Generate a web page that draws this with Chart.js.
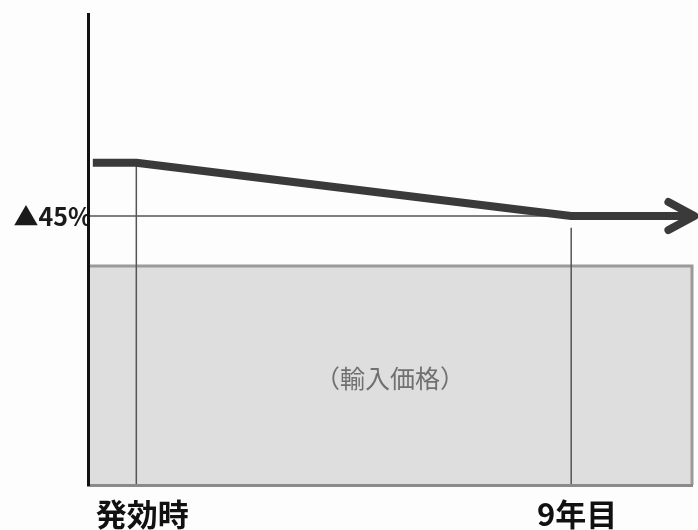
<!DOCTYPE html>
<html>
<head>
<meta charset="utf-8">
<script src="https://cdn.jsdelivr.net/npm/chart.js@4"></script>
<style>
  html, body { margin: 0; padding: 0; background: #fdfdfd; }
  #wrap { width: 698px; height: 530px; position: relative; }
</style>
</head>
<body>
<div id="wrap"><canvas id="chart"></canvas></div>
<script>
// Years after the agreement takes effect
const years = [-0.9, 0, 9, 11.55];
// Price level incl. tariff (relative units)
const tariffLevel = [68.4, 68.4, 57.1, 57.1];
// Import price (grey box) and reduced level
const importPrice = 46.5;
const cutLevel = 57.1;
const cutLabel = "▲45%";
const xTickValues = [0, 9];
const xTickLabels = ["発効時", "9年目"];
const boxLabel = "（輸入価格）";

const xMin = -1, xMax = 11.5;

function pts(xs, ys) {
  return xs.map((x, i) => ({ x: x, y: ys[i] }));
}

// Arrow head + box caption
const extras = {
  id: "extras",
  afterDatasetsDraw(chart) {
    const ctx = chart.ctx;
    const meta = chart.getDatasetMeta(0);
    const last = meta.data[meta.data.length - 1];
    ctx.save();
    ctx.strokeStyle = "#3a3a3a";
    ctx.lineWidth = 8;
    ctx.lineCap = "round";
    ctx.lineJoin = "round";
    ctx.beginPath();
    ctx.moveTo(last.x - 26, last.y - 14);
    ctx.lineTo(last.x, last.y);
    ctx.lineTo(last.x - 26, last.y + 14);
    ctx.stroke();

    const xs = chart.scales.x, ys = chart.scales.y;
    ctx.fillStyle = "#707070";
    ctx.font = "25px 'Noto Sans CJK JP'";
    ctx.textAlign = "center";
    ctx.textBaseline = "middle";
    ctx.fillText(boxLabel, xs.getPixelForValue((xMin + xMax) / 2), ys.getPixelForValue(importPrice / 2) + 3);
    ctx.restore();
  }
};

const ctx = document.getElementById("chart").getContext("2d");

new Chart(ctx, {
  type: "scatter",
  data: {
    datasets: [
      {
        // main line
        data: pts(years, tariffLevel),
        showLine: true,
        borderColor: "#3a3a3a",
        borderWidth: 8,
        pointRadius: 0,
        borderJoinStyle: "round",
        clip: false,
        order: 1
      },
      {
        data: pts([0, 0], [0, tariffLevel[1]]),
        showLine: true,
        borderColor: "#555",
        borderWidth: 1.5,
        pointRadius: 0,
        order: 2
      },
      {
        data: pts([9, 9], [0, 54.6]),
        showLine: true,
        borderColor: "#555",
        borderWidth: 1.5,
        pointRadius: 0,
        order: 2
      },
      {
        data: pts([xMin, 9], [cutLevel, cutLevel]),
        showLine: true,
        borderColor: "#555",
        borderWidth: 1.5,
        pointRadius: 0,
        order: 2
      },
      {
        // import price box
        data: pts([xMin, xMax, xMax], [importPrice, importPrice, 0]),
        showLine: true,
        fill: "origin",
        backgroundColor: "#dedede",
        borderColor: "#9a9a9a",
        borderWidth: 3,
        pointRadius: 0,
        clip: false,
        order: 3
      }
    ]
  },
  options: {
    responsive: true,
    maintainAspectRatio: false,
    animation: false,
    layout: { padding: { top: 14, right: 6, left: 0, bottom: 0 } },
    plugins: {
      legend: { display: false },
      tooltip: { enabled: false }
    },
    scales: {
      x: {
        type: "linear",
        min: xMin,
        max: xMax,
        grid: { display: false },
        border: { display: true, color: "#8a8a8a", width: 3, z: 1 },
        afterBuildTicks: (s) => { s.ticks = xTickValues.map(v => ({ value: v })); },
        afterFit: (s) => { s.height = 45; },
        ticks: {
          padding: 3,
          labelOffset: 6,
          color: "#111",
          font: { family: "'Noto Sans CJK JP'", size: 31, weight: "bold" },
          callback: (v) => xTickLabels[xTickValues.indexOf(v)]
        }
      },
      y: {
        min: 0,
        max: 100,
        grid: { display: false },
        border: { display: true, color: "#111", width: 3, z: 2 },
        afterBuildTicks: (s) => { s.ticks = [{ value: cutLevel }]; },
        afterFit: (s) => { s.width = 88; },
        ticks: {
          padding: -12,
          color: "#1a1a1a",
          font: { family: "'Noto Sans CJK JP'", size: 25, weight: "bold" },
          callback: () => cutLabel
        }
      }
    }
  },
  plugins: [extras]
});
</script>
</body>
</html>
